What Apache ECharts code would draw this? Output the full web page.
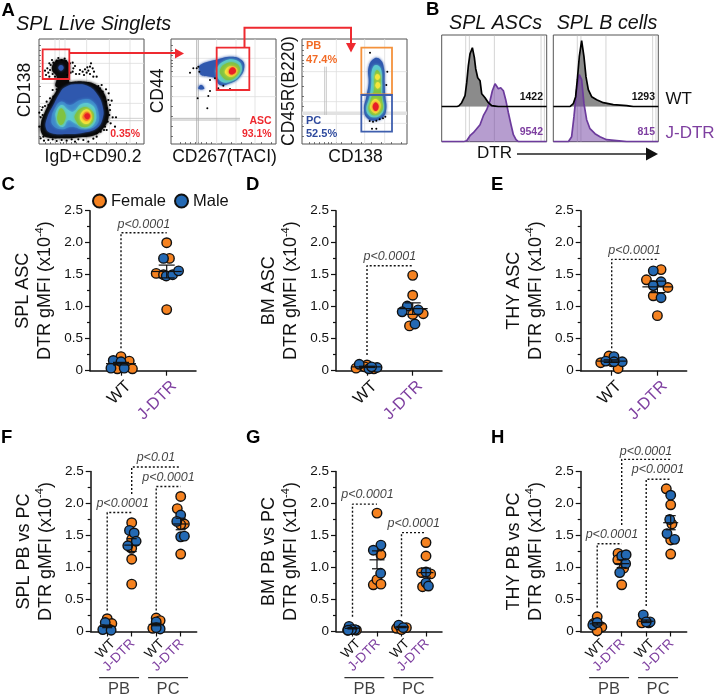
<!DOCTYPE html>
<html>
<head>
<meta charset="utf-8">
<style>
  html, body { margin: 0; padding: 0; background: #fff; }
  #main { width: 720px; height: 697px; }
</style>
<script src="https://cdn.jsdelivr.net/npm/echarts@6/dist/echarts.min.js"></script>
</head>
<body>
<div id="main"></div>
<script>
// ---- swarm plots: [jitter, value (x10^-4)] ----
var cWtF = [[0, 0.22], [0.18, 0.15], [0.25, 0.03], [-0.08, 0.03]];
var cWtM = [[-0.17, 0.16], [0, 0.14], [-0.22, 0.04], [0.07, 0.04]];
var cJF = [[0, 2.0], [0.06, 1.755], [-0.23, 1.52], [-0.07, 1.5], [0, 0.955]];
var cJM = [[-0.07, 1.755], [-0.01, 1.48], [0.13, 1.5], [0.26, 1.56]];

var dWtF = [[-0.24, 0.04], [0, 0.09], [0.15, 0.03], [-0.05, 0.06]];
var dWtM = [[-0.17, 0.1], [0.04, 0.03], [0.22, 0.05], [0.1, 0.06]];
var dJF = [[0, 1.49], [0, 1.18], [0, 0.88], [0.23, 0.89], [-0.07, 0.7]];
var dJM = [[-0.12, 1.01], [0.12, 0.95], [-0.23, 0.92], [0.05, 0.73]];

var eWtF = [[-0.24, 0.125], [0.14, 0.035], [-0.06, 0.23], [0, 0.14]];
var eWtM = [[0.05, 0.22], [-0.13, 0.15], [0.23, 0.14], [0.05, 0.14]];
var eJF = [[0.08, 1.58], [-0.24, 1.42], [0.23, 1.3], [-0.09, 1.17], [0, 0.86]];
var eJM = [[-0.09, 1.56], [0.08, 1.39], [-0.09, 1.33], [0.08, 1.14]];

var fPbWtF = [[0, 0.2], [0.19, 0.125], [0, 0.05]];
var fPbWtM = [[-0.08, 0.14], [-0.18, 0.03], [0.16, 0.02]];
var fPbJF = [[0, 1.7], [0, 1.44], [0, 1.3], [0, 1.13], [0, 0.74]];
var fPbJM = [[-0.09, 1.58], [0.1, 1.54], [0.18, 1.41], [-0.16, 1.34]];
var fPcWtF = [[0, 0.21], [-0.14, 0.05], [0.16, 0.17]];
var fPcWtM = [[0, 0.15], [0.16, 0.04], [0, 0.06]];
var fPcJF = [[0, 2.11], [-0.14, 1.92], [0.15, 1.68], [0, 1.67], [0, 1.21]];
var fPcJM = [[0, 1.82], [-0.16, 1.72], [0, 1.48], [0.15, 1.49]];

var gPbWtF = [[-0.2, 0.02], [0.16, 0.02]];
var gPbWtM = [[-0.14, 0.08], [0.1, 0.03], [-0.04, 0.03], [-0.18, 0.02]];
var gPbJF = [[0, 1.85], [0.16, 1.2], [-0.15, 0.73], [0, 0.81], [0.16, 0.74]];
var gPbJM = [[0.16, 1.35], [-0.15, 1.27], [0.15, 0.91]];
var gPcWtF = [[-0.2, 0.05], [0.2, 0.06], [0, 0.03]];
var gPcWtM = [[-0.11, 0.1], [0.07, 0.06]];
var gPcJF = [[0, 1.39], [0, 1.18], [-0.18, 0.92], [0.19, 0.9], [-0.14, 0.7]];
var gPcJM = [[0, 0.93], [0, 0.76], [0.1, 0.71]];

var hPbWtF = [[0, 0.23], [0.19, 0.07], [0, 0.01], [-0.15, 0.125]];
var hPbWtM = [[-0.18, 0.1], [0, 0.14]];
var hPbJF = [[-0.15, 1.22], [0, 0.73], [-0.16, 1.12], [0.08, 0.99]];
var hPbJM = [[0, 1.18], [0.18, 1.2], [0.16, 1.06], [-0.08, 0.92]];
var hPcWtF = [[-0.18, 0.135], [0.1, 0.135]];
var hPcWtM = [[-0.12, 0.26], [0.16, 0.15], [0, 0.15]];
var hPcJF = [[-0.18, 2.23], [0, 1.98], [0.05, 1.68], [0, 1.43], [0, 1.21]];
var hPcJM = [[0, 2.13], [-0.04, 1.75], [-0.15, 1.53], [0.16, 1.44]];

// ---- mean and sem: [position, mean, sem] ----
var cMeans = [[1, 0.11, 0.02], [2, 1.55, 0.1]];
var dMeans = [[1, 0.06, 0.01], [2, 0.97, 0.09]];
var eMeans = [[1, 0.15, 0.02], [2, 1.31, 0.09]];
var fMeans = [[1, 0.08, 0.02], [2, 1.35, 0.1], [3, 0.11, 0.02], [4, 1.68, 0.09]];
var gMeans = [[1, 0.05, 0.01], [2, 1.12, 0.14], [3, 0.07, 0.01], [4, 0.92, 0.07]];
var hMeans = [[1, 0.12, 0.02], [2, 1.06, 0.06], [3, 0.16, 0.02], [4, 1.7, 0.11]];

var tickLabels = ['WT', 'J-DTR'];

// ---- histograms of panel B: [channel, height] ----
var bAscWt = [[20, 0], [65, 0], [72, 1], [80, 4], [90, 11], [95, 24], [100, 41], [105, 53], [112, 59], [118, 49], [122, 38], [128, 29], [135, 26], [140, 13], [150, 9], [160, 4], [170, 1], [190, 0], [335, 0]];
var bAscJ = [[20, 0], [85, 0], [95, 1], [105, 6], [115, 9], [125, 13], [135, 17], [145, 26], [155, 32], [165, 41], [172, 51], [180, 58], [185, 57], [190, 53], [197, 54], [205, 51], [212, 42], [220, 29], [228, 17], [235, 7], [243, 2], [250, 0], [335, 0]];
var bBWt = [[0, 0], [50, 0], [60, 3], [67, 10], [72, 27], [78, 50], [85, 66], [92, 50], [98, 30], [105, 17], [115, 10], [130, 7], [150, 4], [180, 2], [220, 1], [240, 0], [315, 0]];
var bBJ = [[0, 0], [45, 0], [55, 5], [62, 25], [70, 52], [78, 67], [85, 62], [92, 38], [100, 22], [110, 13], [125, 8], [140, 5], [160, 2], [190, 1], [220, 0], [315, 0]];

// ---- flow plot A1: density contours ----
var a1Black = [[92, 165], [130, 155], [168, 155], [195, 163], [222, 190], [232, 225], [236, 260], [220, 295], [195, 315], [150, 322], [100, 325], [50, 322], [35, 310], [33, 280], [43, 250], [60, 215], [75, 190]];
var a1Upper = [[93, 88], [114, 96], [120, 115], [116, 135], [114, 170], [78, 170], [80, 140], [66, 120], [72, 98]];
var a1UpperCore = [[93, 105], [101, 113], [93, 122], [85, 113]];
var a1Blue = [[105, 172], [140, 163], [178, 170], [203, 195], [218, 230], [218, 265], [200, 295], [160, 308], [110, 312], [65, 310], [48, 295], [52, 262], [72, 222], [88, 192]];
var a1MidBlue = [[72, 240], [92, 215], [120, 225], [152, 210], [185, 212], [205, 245], [200, 285], [160, 298], [125, 290], [95, 298], [68, 285], [65, 262]];
var a1Cyan = [[78, 245], [95, 225], [115, 240], [130, 245], [155, 222], [185, 225], [198, 250], [192, 282], [165, 295], [135, 280], [115, 270], [100, 290], [85, 285], [78, 265]];
var a1GreenL = [[83, 255], [93, 235], [105, 250], [105, 270], [93, 285], [83, 272]];
var a1GreenR = [[135, 255], [160, 232], [183, 240], [192, 260], [180, 285], [155, 290], [138, 272]];
var a1Yellow = [[150, 258], [170, 238], [185, 255], [178, 278], [160, 280]];
var a1Orange = [[158, 258], [170, 245], [182, 258], [172, 272], [160, 268]];
var a1Red = [[163, 258], [172, 250], [180, 258], [172, 268]];
var a1Dots = [[62, 105], [70, 98], [80, 92], [95, 90], [108, 93], [120, 100], [128, 98], [60, 120], [55, 128], [68, 132], [45, 122], [112, 135], [122, 128], [130, 115], [135, 108], [52, 115], [48, 135], [58, 140], [66, 90], [85, 84], [104, 86], [128, 125], [138, 132], [58, 100], [75, 140], [165, 118], [172, 112], [180, 110], [188, 115], [192, 125], [183, 100], [175, 122], [158, 125], [150, 120], [170, 128], [200, 140], [162, 135], [180, 132], [190, 140], [148, 132], [235, 210], [245, 212], [230, 235], [240, 240], [248, 262], [258, 262], [255, 290], [233, 275], [225, 290], [240, 225], [228, 215], [222, 200], [210, 175], [205, 168], [218, 185], [238, 255], [242, 280], [230, 300], [236, 190], [228, 178], [215, 165], [28, 290], [25, 270], [32, 262], [20, 298], [35, 240], [45, 228], [28, 248], [40, 320], [32, 325], [55, 330], [80, 333], [110, 332], [145, 328], [175, 335], [160, 330], [200, 320], [212, 305], [222, 300], [50, 215], [60, 205], [68, 180], [38, 255], [200, 310], [125, 328], [26, 310], [42, 332], [68, 328], [95, 330], [135, 335], [190, 326], [55, 225], [70, 200], [80, 178], [38, 232]];

// ---- flow plot A2 ----
var a2Blue = [[105, 105], [150, 90], [200, 80], [230, 90], [238, 110], [225, 140], [195, 160], [165, 165], [150, 145], [135, 140], [108, 135], [103, 120]];
var a2Spot = [[100, 176], [108, 164], [118, 176]];
var a2Cyan = [[155, 115], [180, 92], [212, 90], [230, 108], [222, 138], [195, 155], [170, 155], [155, 135]];
var a2Green = [[165, 120], [185, 100], [212, 100], [225, 118], [213, 140], [190, 150], [172, 140]];
var a2Yellow = [[180, 122], [198, 108], [215, 115], [215, 130], [200, 140], [185, 135]];
var a2Red = [[192, 122], [203, 112], [213, 122], [205, 132], [195, 132]];
var a2Dots = [[75, 128], [85, 115], [95, 115], [103, 125], [100, 110], [135, 150], [150, 145], [135, 183], [130, 198], [98, 205], [127, 235], [160, 175], [175, 167], [195, 177]];

// ---- flow plot A3 ----
var a3Blue = [[240, 85], [258, 90], [268, 115], [270, 160], [272, 200], [275, 235], [265, 262], [240, 272], [218, 265], [208, 240], [215, 200], [222, 160], [222, 110]];
var a3Cyan = [[243, 105], [258, 115], [262, 160], [263, 200], [268, 235], [258, 255], [240, 262], [222, 255], [215, 235], [225, 200], [230, 160], [232, 120]];
var a3Green = [[247, 120], [257, 135], [258, 180], [262, 210], [263, 240], [240, 256], [222, 240], [228, 210], [238, 180], [240, 135]];
var a3YellowA = [[248, 132], [256, 141], [248, 150], [241, 141]];
var a3YellowB = [[249, 156], [257, 166], [249, 176], [242, 166]];
var a3YellowC = [[243, 207], [258, 225], [245, 250], [228, 238], [230, 218]];
var a3Red = [[243, 217], [252, 230], [243, 243], [234, 230]];
var a3Dots = [[226, 68], [278, 125], [275, 165], [225, 273], [235, 275], [245, 272], [255, 268], [265, 265], [272, 260], [232, 296], [245, 296]];

var flowTicks = [45, 60, 75, 90, 100, 110, 125, 140, 170, 200, 230, 260, 290, 320];

var font = '"Liberation Sans", Arial, sans-serif';
var orange = '#F58220';
var blue = '#2469B3';
var purple = '#7E3FA0';
var red = '#EE2A30';
var flowCols = { black: '#0a0a0a', blue: '#2F58AE', mid: '#3F8ACB', cyan: '#5CCAD0', green: '#80C342', yellow: '#F4E63C', orange: '#F59028', red: '#E81E26' };

var grids = [];
var xAxes = [];
var yAxes = [];
var series = [];

function addGrid(left, top, width, height, extra, xa, ya) {
  grids.push(Object.assign({ left: left, top: top, width: width, height: height, containLabel: false }, extra || {}));
  xAxes.push(Object.assign({ gridIndex: grids.length - 1, type: 'value' }, xa));
  yAxes.push(Object.assign({ gridIndex: grids.length - 1, type: 'value' }, ya));
  return grids.length - 1;
}

// one filled contour or gate outline, every corner goes through the axes
function blob(g, pts, style, smooth, z) {
  series.push({
    type: 'custom', xAxisIndex: g, yAxisIndex: g, z: z || 3, silent: true, animation: false,
    data: pts,
    renderItem: function (params, api) {
      if (params.dataIndex !== 0) return null;
      return {
        type: 'polygon',
        shape: { points: pts.map(function (p) { return api.coord(p); }), smooth: smooth },
        style: style
      };
    }
  });
}

// straight pieces: [x1, y1, x2, y2]
function segments(g, list, color, width, z) {
  series.push({
    type: 'custom', xAxisIndex: g, yAxisIndex: g, z: z || 2, silent: true, animation: false,
    data: list,
    renderItem: function (params, api) {
      var a = api.coord([api.value(0), api.value(1)]);
      var b = api.coord([api.value(2), api.value(3)]);
      return { type: 'line', shape: { x1: a[0], y1: a[1], x2: b[0], y2: b[1] }, style: { stroke: color, lineWidth: width } };
    }
  });
}

function contour(g, pts, col) {
  blob(g, pts, { fill: col, shadowBlur: 3, shadowColor: col }, 0.45);
}

function dots(g, pts, size) {
  series.push({ type: 'scatter', xAxisIndex: g, yAxisIndex: g, z: 4, silent: true, animation: false, symbolSize: size, itemStyle: { color: '#000', opacity: 1 }, data: pts });
}

function gate(g, x1, y1, x2, y2, col) {
  blob(g, [[x1, y1], [x2, y1], [x2, y2], [x1, y2]], { fill: 'none', stroke: col, lineWidth: 1.8 }, 0, 6);
}

function flowAxis(min, inverse) {
  return {
    min: min, max: min + 315, inverse: inverse,
    axisLine: { show: false }, splitLine: { show: false }, axisLabel: { show: false },
    axisTick: { show: true, inside: true, length: 2, customValues: flowTicks.filter(function (v) { return v > min; }), lineStyle: { color: '#444', width: 0.7 } }
  };
}

function flowGrid(left, xMin, yMin) {
  return addGrid(left, 39, 105, 105, { show: true, borderColor: '#555', borderWidth: 1, backgroundColor: '#fff' }, flowAxis(xMin, false), flowAxis(yMin, true));
}

// A1
var a1 = flowGrid(39, 27, 27);
segments(a1, [[75, 27, 75, 342], [88, 27, 88, 342], [105, 27, 105, 342], [170, 27, 170, 342], [238, 27, 238, 342], [300, 27, 300, 342], [27, 100, 342, 100], [27, 160, 342, 160], [27, 220, 342, 220]], '#dcdcdc', 0.8);
segments(a1, [[240, 265, 342, 265], [240, 272, 342, 272]], '#c4c4c4', 0.8);
contour(a1, a1Upper, flowCols.black);
contour(a1, a1Black, flowCols.black);
contour(a1, a1UpperCore, flowCols.blue);
contour(a1, a1Blue, flowCols.blue);
contour(a1, a1MidBlue, flowCols.mid);
contour(a1, a1Cyan, flowCols.cyan);
contour(a1, a1GreenL, flowCols.green);
contour(a1, a1GreenR, flowCols.green);
contour(a1, a1Yellow, flowCols.yellow);
contour(a1, a1Orange, flowCols.orange);
contour(a1, a1Red, flowCols.red);
dots(a1, a1Dots, 2.2);
gate(a1, 38, 58, 118, 147, red);

// A2
var a2 = flowGrid(171, 18, 27);
segments(a2, [[155, 27, 155, 342], [213, 27, 213, 342], [270, 27, 270, 342], [18, 85, 333, 85], [18, 140, 333, 140], [18, 200, 333, 200]], '#dedede', 0.8);
segments(a2, [[95, 27, 95, 342], [100, 27, 100, 342], [18, 265, 225, 265], [18, 270, 225, 270]], '#a8a8a8', 0.8);
contour(a2, a2Blue, flowCols.blue);
contour(a2, a2Spot, flowCols.blue);
contour(a2, a2Cyan, flowCols.cyan);
contour(a2, a2Green, flowCols.green);
contour(a2, a2Yellow, flowCols.yellow);
contour(a2, a2Red, flowCols.red);
dots(a2, a2Dots, 2);
gate(a2, 155, 53, 253, 180, red);

// A3
var a3 = flowGrid(302, 22, 27);
segments(a3, [[125, 27, 125, 342], [210, 27, 210, 342], [270, 27, 270, 342], [22, 125, 337, 125], [22, 215, 337, 215], [22, 280, 337, 280]], '#dedede', 0.8);
segments(a3, [[22, 250, 337, 250]], '#e2e2e2', 3.5);
segments(a3, [[90, 110, 90, 255], [95, 110, 95, 255]], '#bdbdbd', 0.8);
contour(a3, a3Blue, flowCols.blue);
contour(a3, a3Cyan, flowCols.cyan);
contour(a3, a3Green, flowCols.green);
contour(a3, a3YellowA, flowCols.yellow);
contour(a3, a3YellowB, flowCols.yellow);
contour(a3, a3YellowC, flowCols.yellow);
contour(a3, a3Red, flowCols.red);
dots(a3, a3Dots, 2);
gate(a3, 200, 53, 292, 193, '#F4923C');
gate(a3, 200, 195, 292, 305, '#3F5FAE');

// B
function histAxisX(min) {
  return { min: min, max: min + 315, axisLine: { show: false }, axisTick: { show: false }, axisLabel: { show: false }, splitLine: { show: false } };
}
function histAxisY(max) {
  return { min: 0, max: max, axisLine: { show: false }, axisTick: { show: false }, axisLabel: { show: false }, splitLine: { show: false } };
}
function histPanel(left, xMin, wt, j, lines) {
  var frame = addGrid(left, 35, 105, 106.7, { show: true, borderColor: '#555', borderWidth: 1 }, histAxisX(xMin), histAxisY(106.7));
  segments(frame, lines, '#c9c9c9', 0.8, 1);
  var top = addGrid(left, 35, 105, 71.7, {}, histAxisX(xMin), histAxisY(71.7));
  series.push({ type: 'line', xAxisIndex: top, yAxisIndex: top, data: wt, symbol: 'none', z: 3, animation: false, silent: true, lineStyle: { width: 0 }, areaStyle: { color: '#8b8b8b', opacity: 1 } });
  series.push({ type: 'line', xAxisIndex: frame, yAxisIndex: frame, data: j, symbol: 'none', z: 4, animation: false, silent: true, lineStyle: { color: '#6C3B9C', width: 1.7 }, areaStyle: { color: '#6E3CA0', opacity: 0.5 } });
  series.push({ type: 'line', xAxisIndex: top, yAxisIndex: top, data: wt, symbol: 'none', z: 5, animation: false, silent: true, lineStyle: { color: '#000', width: 1.7 } });
}
histPanel(441.7, 20, bAscWt, bAscJ, [[92, 0, 92, 106], [103, 0, 103, 106], [178, 0, 178, 106], [318, 0, 318, 106], [328, 0, 328, 106]]);
histPanel(553.3, 0, bBWt, bBJ, [[72, 0, 72, 106], [83, 0, 83, 106], [158, 0, 158, 106], [298, 0, 298, 106], [308, 0, 308, 106]]);

// C to H
function swarmPanel(p) {
  var x0 = p.first - p.before / p.step;
  var g = addGrid(p.left, p.top, 106, 160, {}, {
    min: x0, max: x0 + 106 / p.step,
    axisLine: { onZero: false, lineStyle: { color: '#111', width: 1.5 } },
    splitLine: { show: false },
    axisTick: { show: true, length: 5, customValues: p.ticks, lineStyle: { color: '#111', width: 1.2 } },
    axisLabel: {
      // label anchors sit a little right of their ticks, as in the figure
      show: true, customValues: p.labelAt, rotate: 45, margin: p.labelMargin, hideOverlap: false,
      formatter: function (v) { return Math.round(v) % 2 ? '{w|' + tickLabels[0] + '}' : '{j|' + tickLabels[1] + '}'; },
      rich: {
        w: { fontFamily: font, fontSize: p.labelSize, color: '#111' },
        j: { fontFamily: font, fontSize: p.labelSize, color: purple }
      }
    }
  }, {
    min: 0, max: 2.5, interval: 0.5,
    name: '{a|' + p.title + '}\n{a|DTR gMFI (x10}{s|-4}{a|)}',
    nameLocation: 'middle', nameRotate: 90, nameGap: 34,
    nameTextStyle: {
      lineHeight: 22,
      rich: {
        a: { fontFamily: font, fontSize: 18, color: '#111', lineHeight: 22 },
        s: { fontFamily: font, fontSize: 11, color: '#111', verticalAlign: 'top', lineHeight: 22 }
      }
    },
    axisLine: { show: true, onZero: false, lineStyle: { color: '#111', width: 1.5 } },
    splitLine: { show: false },
    axisTick: { show: true, length: 5, lineStyle: { color: '#111', width: 1.2 } },
    minorTick: { show: true, splitNumber: 2, length: 3, lineStyle: { color: '#111', width: 1.2 } },
    axisLabel: {
      fontFamily: font, fontSize: 13.5, color: '#111', margin: 7,
      formatter: function (v) { return v === 0 ? '0' : v.toFixed(1); }
    }
  });
  p.brackets.forEach(function (b) {
    series.push({
      type: 'line', xAxisIndex: g, yAxisIndex: g, data: b.path, symbol: 'none', clip: false, z: 2, silent: true, animation: false,
      lineStyle: { color: '#111', width: 1.4, type: [2, 2] }
    });
    series.push({
      type: 'scatter', xAxisIndex: g, yAxisIndex: g, data: [b.text], symbolSize: 0, clip: false, z: 7, silent: true, animation: false,
      label: { show: true, position: 'inside', formatter: b.label, fontFamily: font, fontStyle: 'italic', fontSize: 12.5, color: '#111' }
    });
  });
  p.groups.forEach(function (gr) {
    var f = gr.points[0];
    var m = gr.points[1];
    series.push({ type: 'scatter', name: 'Female', xAxisIndex: g, yAxisIndex: g, z: 4, silent: true, animation: false, clip: false, symbolSize: 9.5, itemStyle: { color: orange, borderColor: '#111', borderWidth: 1.4, opacity: 1 }, data: f.map(function (d) { return [gr.pos + d[0], d[1]]; }) });
    series.push({ type: 'scatter', name: 'Male', xAxisIndex: g, yAxisIndex: g, z: 5, silent: true, animation: false, clip: false, symbolSize: 9.5, itemStyle: { color: blue, borderColor: '#111', borderWidth: 1.4, opacity: 1 }, data: m.map(function (d) { return [gr.pos + d[0], d[1]]; }) });
  });
  // mean with sem on top of the points
  series.push({
    type: 'custom', xAxisIndex: g, yAxisIndex: g, z: 6, silent: true, animation: false, data: p.means,
    renderItem: function (params, api) {
      var x = api.value(0);
      var c = api.coord([x, api.value(1)]);
      var hi = api.coord([x, api.value(1) + api.value(2)]);
      var lo = api.coord([x, api.value(1) - api.value(2)]);
      var st = { stroke: '#111', lineWidth: 1.2 };
      return {
        type: 'group',
        children: [
          { type: 'line', shape: { x1: c[0] - p.barHalf, y1: c[1], x2: c[0] + p.barHalf, y2: c[1] }, style: st },
          { type: 'line', shape: { x1: c[0], y1: hi[1], x2: c[0], y2: lo[1] }, style: st },
          { type: 'line', shape: { x1: c[0] - p.capHalf, y1: hi[1], x2: c[0] + p.capHalf, y2: hi[1] }, style: st },
          { type: 'line', shape: { x1: c[0] - p.capHalf, y1: lo[1], x2: c[0] + p.capHalf, y2: lo[1] }, style: st }
        ]
      };
    }
  });
  (p.under || []).forEach(function (u) {
    series.push({ type: 'line', xAxisIndex: g, yAxisIndex: g, data: [[u.from, -0.72], [u.to, -0.72]], symbol: 'none', clip: false, z: 2, silent: true, animation: false, lineStyle: { color: '#333', width: 1.4 } });
    series.push({ type: 'scatter', xAxisIndex: g, yAxisIndex: g, data: [[(u.from + u.to) / 2, -0.9]], symbolSize: 0, clip: false, silent: true, animation: false, label: { show: true, position: 'inside', formatter: u.label, fontFamily: font, fontSize: 16.5, color: '#111' } });
  });
}

function twoPanel(left, title, wtF, wtM, jF, jM, means, bracket, text) {
  swarmPanel({
    left: left, top: 210.7, title: title, first: 1, before: 31, step: 45.7, ticks: [1, 2], labelAt: [1.16, 2.16], labelSize: 16.5, labelMargin: 13,
    barHalf: 15, capHalf: 8, means: means,
    groups: [{ pos: 1, points: [wtF, wtM] }, { pos: 2, points: [jF, jM] }],
    brackets: [{ path: [[1, bracket[0]], [1, bracket[1]], [2, bracket[1]]], text: [1.5, text], label: 'p<0.0001' }]
  });
}

function fourPanel(left, title, arr, means, brackets) {
  swarmPanel({
    left: left, top: 471.5, title: title, first: 1, before: 16.5, step: 24.5, ticks: [1, 2, 3, 4], labelAt: [1.24, 2.04, 3.24, 4.04], labelSize: 13.5, labelMargin: 10,
    barHalf: 7.5, capHalf: 5, means: means,
    groups: [{ pos: 1, points: [arr[0], arr[1]] }, { pos: 2, points: [arr[2], arr[3]] }, { pos: 3, points: [arr[4], arr[5]] }, { pos: 4, points: [arr[6], arr[7]] }],
    brackets: brackets,
    under: [{ from: 0.67, to: 2.3, label: 'PB' }, { from: 2.67, to: 4.3, label: 'PC' }]
  });
}

twoPanel(90, 'SPL ASC', cWtF, cWtM, cJF, cJM, cMeans, [0.35, 2.155], 2.29);
twoPanel(336, 'BM ASC', dWtF, dWtM, dJF, dJM, dMeans, [0.245, 1.64], 1.78);
twoPanel(580.7, 'THY ASC', eWtF, eWtM, eJF, eJM, eMeans, [0.35, 1.74], 1.885);

fourPanel(90.7, 'SPL PB vs PC', [fPbWtF, fPbWtM, fPbJF, fPbJM, fPcWtF, fPcWtM, fPcJF, fPcJM], fMeans, [
  { path: [[1, 0.33], [1, 1.86], [2, 1.86]], text: [1.63, 2.0], label: 'p<0.0001' },
  { path: [[2, 2.15], [2, 2.57], [4, 2.57]], text: [2.99, 2.72], label: 'p<0.01' },
  { path: [[3, 0.33], [3, 2.265], [4, 2.265]], text: [3.5, 2.41], label: 'p<0.0001' }
]);
fourPanel(336, 'BM PB vs PC', [gPbWtF, gPbWtM, gPbJF, gPbJM, gPcWtF, gPcWtM, gPcJF, gPcJM], gMeans, [
  { path: [[1, 0.23], [1, 1.99], [2, 1.99]], text: [1.61, 2.135], label: 'p<0.0001' },
  { path: [[3, 0.24], [3, 1.545], [4, 1.545]], text: [3.5, 1.68], label: 'p<0.0001' }
]);
fourPanel(580.7, 'THY PB vs PC', [hPbWtF, hPbWtM, hPbJF, hPbJM, hPcWtF, hPcWtM, hPcJF, hPcJM], hMeans, [
  { path: [[1, 0.375], [1, 1.37], [2, 1.37]], text: [1.6, 1.52], label: 'p<0.0001' },
  { path: [[2, 1.665], [2, 2.69], [4, 2.69]], text: [2.99, 2.82], label: 'p<0.0001' },
  { path: [[3, 0.4], [3, 2.38], [4, 2.38]], text: [3.48, 2.53], label: 'p<0.0001' }
]);

// free text and arrows
function txt(x, y, text, size, opts) {
  opts = opts || {};
  return {
    type: 'text', x: x, y: y, rotation: opts.rot || 0, z: 20, silent: true,
    style: {
      text: text, fill: opts.color || '#111', align: opts.align || 'center', verticalAlign: 'middle',
      font: (opts.style ? opts.style + ' ' : '') + (opts.weight ? opts.weight + ' ' : '') + size + 'px ' + font
    }
  };
}
function bold(x, y, text, size, color, align) {
  return txt(x, y, text, size, { weight: 'bold', color: color, align: align });
}
var up = Math.PI / 2;
var graphics = [
  bold(1.5, 11, 'A', 18.5, '#000', 'left'),
  txt(16, 24, 'SPL Live Singlets', 19.8, { style: 'italic', align: 'left' }),
  txt(25, 90, 'CD138', 17.5, { rot: up }),
  txt(93, 157, 'IgD+CD90.2', 17.5),
  txt(158, 91, 'CD44', 17.5, { rot: up }),
  txt(224.5, 157, 'CD267(TACI)', 17.5),
  txt(289, 91, 'CD45R(B220)', 17.5, { rot: up }),
  txt(355.5, 157, 'CD138', 17.5),
  bold(140, 134, '0.35%', 10.5, red, 'right'),
  bold(271.7, 121.5, 'ASC', 10.5, red, 'right'),
  bold(271.7, 134, '93.1%', 10.5, red, 'right'),
  bold(306, 46, 'PB', 11, '#F26B26', 'left'),
  bold(306, 59.5, '47.4%', 11, '#F26B26', 'left'),
  bold(306, 120.5, 'PC', 11, '#2E4A9E', 'left'),
  bold(306, 134, '52.5%', 11, '#2E4A9E', 'left'),
  bold(426, 10, 'B', 18.5, '#000', 'left'),
  txt(495.5, 24, 'SPL ASCs', 19.7, { style: 'italic' }),
  txt(607, 24, 'SPL B cells', 19.7, { style: 'italic' }),
  bold(543, 97, '1422', 10.5, '#111', 'right'),
  bold(543, 132, '9542', 10.5, purple, 'right'),
  bold(655, 97, '1293', 10.5, '#111', 'right'),
  bold(655, 132, '815', 10.5, purple, 'right'),
  txt(665.5, 99, 'WT', 17, { align: 'left' }),
  txt(665.5, 133, 'J-DTR', 17, { align: 'left', color: purple }),
  txt(477, 153, 'DTR', 17, { align: 'left' }),
  bold(1.5, 185, 'C', 18.5, '#000', 'left'),
  bold(246, 185, 'D', 18.5, '#000', 'left'),
  bold(491, 185, 'E', 18.5, '#000', 'left'),
  bold(1, 438, 'F', 18.5, '#000', 'left'),
  bold(246, 438, 'G', 18.5, '#000', 'left'),
  bold(491, 438, 'H', 18.5, '#000', 'left'),
  // gating arrows
  { type: 'polyline', z: 15, silent: true, shape: { points: [[69.5, 53], [176, 53]] }, style: { stroke: red, lineWidth: 2, fill: 'none' } },
  { type: 'polygon', z: 15, silent: true, shape: { points: [[175, 48.5], [184, 53.5], [175, 58.5]] }, style: { fill: red } },
  { type: 'polyline', z: 15, silent: true, shape: { points: [[244.5, 47.5], [244.5, 27.7], [351, 27.7], [351, 44]] }, style: { stroke: red, lineWidth: 2, fill: 'none' } },
  { type: 'polygon', z: 15, silent: true, shape: { points: [[346, 43], [351, 52.5], [356, 43]] }, style: { fill: red } },
  // DTR arrow
  { type: 'polyline', z: 15, silent: true, shape: { points: [[517, 154], [648, 154]] }, style: { stroke: '#222', lineWidth: 1.5, fill: 'none' } },
  { type: 'polygon', z: 15, silent: true, shape: { points: [[646, 147.5], [658, 154], [646, 160.5]] }, style: { fill: '#111' } }
];

var chart = echarts.init(document.getElementById('main'), null, { renderer: 'canvas' });
chart.setOption({
  backgroundColor: '#fff',
  animation: false,
  textStyle: { fontFamily: font },
  legend: {
    show: true, data: ['Female', 'Male'], left: 92, top: 192.5, padding: 0, itemGap: 8, itemWidth: 13, itemHeight: 13,
    icon: 'circle', selectedMode: false,
    textStyle: { fontFamily: font, fontSize: 16.5, color: '#111' }
  },
  grid: grids,
  xAxis: xAxes,
  yAxis: yAxes,
  series: series,
  graphic: graphics
});
</script>
</body>
</html>
